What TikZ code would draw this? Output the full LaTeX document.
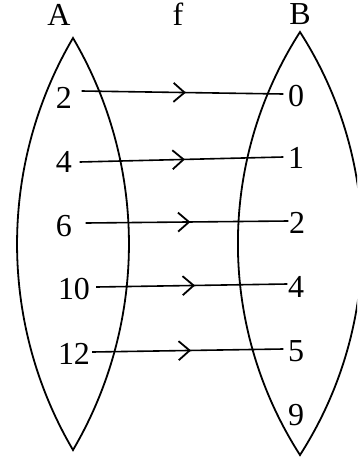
\documentclass[tikz,border=0pt]{standalone}
\usepackage{fontspec}
\setmainfont{Liberation Serif}
\usetikzlibrary{decorations.markings}
\begin{document}
\begin{tikzpicture}[x=1pt,y=-1pt,
  lbl/.style={inner sep=0pt,font=\fontsize{32}{38}\selectfont},
  lens/.style={line width=1.8pt},
  fline/.style={line width=1.6pt,postaction={decorate},
    decoration={markings,mark=at position 0.51 with {\draw[line width=1.8pt,line cap=butt] (-11pt,9.5pt) -- (0,0) -- (-11pt,-9.5pt);}}}]
\useasboundingbox (0,0) rectangle (357,459);
\clip (0,0) rectangle (357,459);
% lenses
\draw[lens] (73,38) .. controls (-1.6,165) and (-1.6,323) .. (73,450)
            .. controls (147.6,323) and (147.6,165) .. (73,38) -- cycle;
\draw[lens] (300,32) .. controls (217.2,161) and (217.2,326) .. (300,455)
            .. controls (382.8,326) and (382.8,161) .. (300,32) -- cycle;
% titles
\node[lbl] (tA) at (59,14.5) {A};
\node[lbl] (tf) at (178,14.5) {f};
\node[lbl] (tB) at (300,14.5) {B};
% left labels
\node[lbl] (l1) at (64,98) {2};
\node[lbl] (l2) at (64,162) {4};
\node[lbl] (l3) at (64,226) {6};
\node[lbl] (l4) at (74,289) {10};
\node[lbl] (l5) at (74,354) {12};
% right labels
\node[lbl] (r1) at (296,96) {0};
\node[lbl] (r2) at (296,158) {1};
\node[lbl] (r3) at (297,223) {2};
\node[lbl] (r4) at (296,287) {4};
\node[lbl] (r5) at (296,351) {5};
\node[lbl] (r6) at (296,415) {9};
% mapping lines
\draw[fline] ([xshift=9.5pt,yshift=7pt]l1.east) -- ([xshift=-4.5pt,yshift=2pt]r1.west);
\draw[fline] ([xshift=7.5pt,yshift=0pt]l2.east) -- ([xshift=-4.5pt,yshift=1pt]r2.west);
\draw[fline] ([xshift=13.5pt,yshift=3pt]l3.east) -- ([xshift=-0.5pt,yshift=2pt]r3.west);
\draw[fline] ([xshift=6pt,yshift=2pt]l4.east) -- ([xshift=-0.5pt,yshift=3pt]r4.west);
\draw[fline] ([xshift=2pt,yshift=2pt]l5.east) -- ([xshift=-4.5pt,yshift=2pt]r5.west);
\end{tikzpicture}
\end{document}
